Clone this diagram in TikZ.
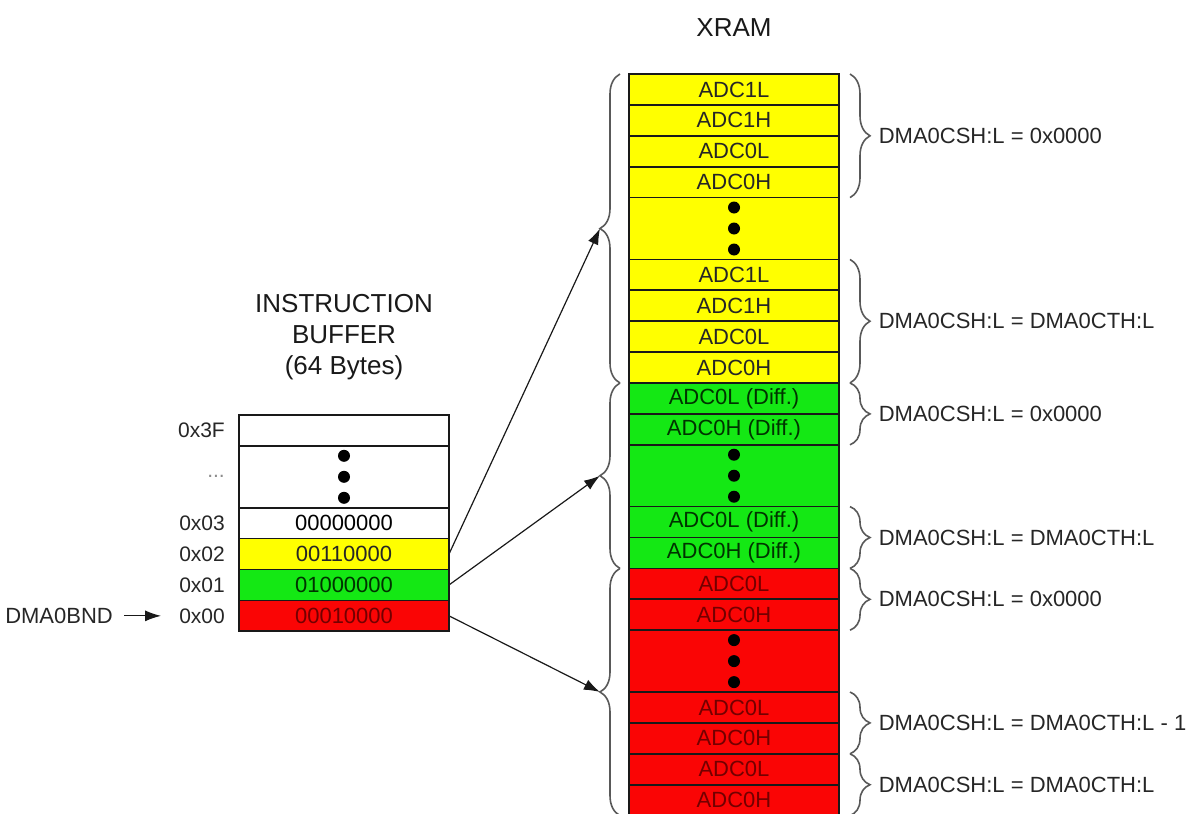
\documentclass[tikz,border=0pt]{standalone}
\usepackage{fontspec}
\setmainfont{Liberation Sans}
\usetikzlibrary{positioning, decorations.pathreplacing, arrows.meta}

\definecolor{bytey}{RGB}{255,255,0}
\definecolor{byteg}{RGB}{20,232,20}
\definecolor{byter}{RGB}{250,5,5}

\tikzset{
  cell/.style={draw=black!90, line width=1.7pt, minimum width=210pt,
    minimum height=30.9pt, inner sep=0pt, outer sep=0pt,
    font=\fontsize{22}{24}\selectfont},
  ycell/.style={cell, fill=bytey, text=black!85},
  gcell/.style={cell, fill=byteg, text=green!20!black},
  rcell/.style={cell, fill=byter, text=red!45!black},
  wcell/.style={cell, fill=white, text=black},
  dotrow/.style={minimum height=61.8pt},
  addr/.style={inner sep=0pt, text=black!85, font=\fontsize{21}{24}\selectfont},
  note/.style={inner sep=0pt, text=black!85, font=\fontsize{22}{24}\selectfont},
  heading/.style={inner sep=0pt, align=center, text=black!90,
    font=\fontsize{26}{31}\selectfont},
  grp/.style={decorate, decoration={brace, amplitude=20pt},
    draw=black!65, line width=1.6pt},
  ptr/.style={draw=black!90, line width=1.2pt, -{Latex[length=16pt, width=11pt]}},
}

\begin{document}
\begin{tikzpicture}[x=1pt, y=-1pt]
\useasboundingbox (0,0) rectangle (1189,814);

% XRAM column
\foreach \i/\txt in {0/ADC1L, 1/ADC1H, 2/ADC0L, 3/ADC0H, 6/ADC1L, 7/ADC1H, 8/ADC0L, 9/ADC0H}
  \node[ycell] (x\i) at (734, {74+(\i+0.5)*30.9}) {\txt};
\foreach \i/\txt in {10/ADC0L (Diff.), 11/ADC0H (Diff.), 14/ADC0L (Diff.), 15/ADC0H (Diff.)}
  \node[gcell] (x\i) at (734, {74+(\i+0.5)*30.9}) {\txt};
\foreach \i/\txt in {16/ADC0L, 17/ADC0H, 20/ADC0L, 21/ADC0H, 22/ADC0L, 23/ADC0H}
  \node[rcell] (x\i) at (734, {74+(\i+0.5)*30.9}) {\txt};
\node[ycell, dotrow] (x4) at (734, {74+5*30.9}) {};
\node[gcell, dotrow] (x12) at (734, {74+13*30.9}) {};
\node[rcell, dotrow] (x18) at (734, {74+19*30.9}) {};
\node[heading, above=37pt of x0] (xram) {XRAM};

% instruction buffer
\node[wcell] (buf3F) at (344, 430.45) {};
\node[wcell, dotrow, below=0pt of buf3F] (bufdots) {};
\node[wcell, below=0pt of bufdots] (buf03) {00000000};
\node[ycell, below=0pt of buf03] (buf02) {00110000};
\node[gcell, below=0pt of buf02] (buf01) {01000000};
\node[rcell, below=0pt of buf01] (buf00) {00010000};
\node[heading, above=35pt of buf3F] (ibuf) {INSTRUCTION\\BUFFER\\(64 Bytes)};

\foreach \d in {x4, x12, x18, bufdots}
  \foreach \s in {-21, 0, 21}
    \fill ([yshift=\s pt]\d.center) circle (6pt);

% addresses
\node[addr, left=14pt of buf3F] (l3F) {0x3F};
\node[addr, text=black!45, left=14pt of bufdots] (ldots) {...};
\node[addr, left=14pt of buf03] (l03) {0x03};
\node[addr, left=14pt of buf02] (l02) {0x02};
\node[addr, left=14pt of buf01] (l01) {0x01};
\node[addr, left=14pt of buf00] (l00) {0x00};
\node[note, left=66pt of l00] (bnd) {DMA0BND};
\draw[ptr, shorten <=11pt, shorten >=18pt] (bnd) -- (l00);

% channel groups
\draw[grp] ([xshift=-9pt]x9.south west) -- ([xshift=-9pt]x0.north west)
  coordinate[midway, left=20pt] (ytip);
\draw[grp] ([xshift=-9pt]x15.south west) -- ([xshift=-9pt]x10.north west)
  coordinate[midway, left=20pt] (gtip);
\draw[grp] ([xshift=-9pt]x23.south west) -- ([xshift=-9pt]x16.north west)
  coordinate[midway, left=20pt] (rtip);

\draw[ptr] (buf02.east) -- (ytip);
\draw[ptr] (buf01.east) -- (gtip);
\draw[ptr] (buf00.east) -- (rtip);

% sample address ranges
\foreach \a/\b/\txt in {x0/x3/{DMA0CSH:L = 0x0000}, x6/x9/{DMA0CSH:L = DMA0CTH:L},
    x10/x11/{DMA0CSH:L = 0x0000}, x14/x15/{DMA0CSH:L = DMA0CTH:L},
    x16/x17/{DMA0CSH:L = 0x0000}, x20/x21/{DMA0CSH:L = DMA0CTH:L - 1},
    x22/x23/{DMA0CSH:L = DMA0CTH:L}}
  \draw[grp] ([xshift=11pt]\a.north east) -- ([xshift=11pt]\b.south east)
    node[note, midway, right=28pt] {\txt};
\end{tikzpicture}
\end{document}
